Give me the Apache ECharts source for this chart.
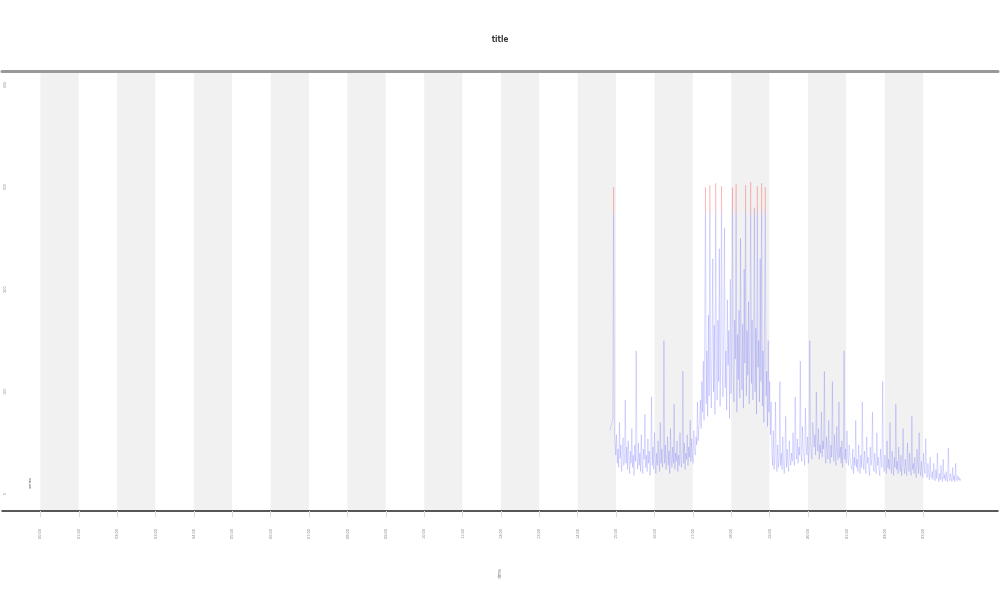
<!DOCTYPE html>
<html>
<head>
<meta charset="utf-8">
<script src="https://cdn.jsdelivr.net/npm/echarts@6/dist/echarts.min.js"></script>
<style>html,body{margin:0;padding:0;background:#fff}#c{width:1000px;height:600px}</style>
</head>
<body>
<div id="c"></div>
<script>
// hour-of-day ticks on the x axis
const hourTicks = [0,1,2,3,4,5,6,7,8,9,10,11,12,13,14,15,16,17,18,19,20,21,22,23];
const hourLabels = hourTicks.map(h => (h < 10 ? '0' + h : '' + h) + ':00');
const yTicks = [0, 100, 200, 300, 400];

// sampling of the series (hours)
const sampleStart = 14.84;
const sampleStep = 0.019;

// series values
const values = [
  62, 66, 68, 71, 74, 300, 60,
  50, 38, 58, 30, 44, 26, 70, 35, 48, 22,
  40, 55, 28, 36, 92, 30, 46, 24, 52, 34,
  20, 42, 30, 64, 26, 38, 18, 48, 32, 140,
  36, 24, 50, 28, 40, 22, 58, 30, 20, 44,
  34, 78, 26, 38, 22, 54, 30, 42, 18, 36,
  95, 28, 46, 24, 60, 32, 20, 40, 28, 52,
  34, 22, 70, 30, 44, 26, 38, 150, 30, 48,
  24, 36, 56, 28, 42, 20, 64, 34, 26, 46,
  30, 88, 24, 40, 32, 52, 22, 38, 28, 60,
  36, 26, 44, 120, 30, 50, 24, 40, 34, 58,
  28, 46, 36, 72, 32, 54, 40, 30, 62, 44,
  38, 56, 48, 90, 52, 66,
  70, 92, 64, 110, 80, 130, 72, 160, 300, 88,
  140, 76, 175, 96, 302, 120, 84, 150, 230, 100,
  165, 78, 304, 130, 92, 170, 110, 240, 86, 150,
  301, 120, 95, 168, 260, 104, 140, 82, 190, 126,
  160, 74, 210, 98, 150, 300, 118, 90, 170, 132,
  303, 80, 156, 112, 180, 94, 250, 140, 102, 166,
  84, 220, 128, 302, 96, 160, 116, 188, 88, 148,
  305, 108, 170, 92, 136, 280, 100, 162, 78, 301,
  124, 150, 90, 230, 110, 304, 86, 140, 70, 175,
  300, 96, 120, 66, 150, 80, 110, 58, 90,
  40, 28, 62, 24, 36, 90, 30, 22, 48, 26,
  34, 110, 28, 40, 24, 56, 30, 20, 38, 76,
  26, 44, 30, 22, 52, 34, 28,
  40, 32, 60, 36, 28, 95, 42, 34, 54, 30,
  46, 38, 130, 40, 32, 66, 44, 36, 28, 84,
  48, 38, 56, 30, 42, 150, 52, 40, 34, 70,
  60, 46, 58, 38, 100, 50, 42, 64, 34, 48,
  40, 80, 36, 52, 44, 120, 38, 30, 56, 42,
  34, 72, 40, 30, 48, 36, 110, 42, 32, 58,
  38, 28, 66, 40, 34, 90, 36, 46, 30, 52,
  26, 40, 140, 34, 44, 30, 62, 36, 28, 48,
  38, 30,
  30, 24, 44, 20, 36, 28, 72, 26, 34, 22,
  48, 30, 20, 38, 26, 90, 32, 24, 42, 28,
  20, 56, 30, 36, 24, 18, 46, 28, 34, 80,
  26, 22, 40, 30, 20, 60, 28, 36, 24, 18,
  44, 32, 26, 110, 30, 22, 38, 28, 20, 52,
  26, 34, 24, 70, 30, 20, 42, 28, 18, 36,
  26, 88, 24, 32, 20, 46, 28, 22, 38, 18,
  30, 64, 26, 20, 34, 24, 18, 50, 28, 22,
  40, 26, 18, 76, 24, 30, 20, 36, 22, 16,
  44, 28, 20, 60, 24, 18, 32, 22, 16, 40,
  26, 20, 54, 22, 16, 30, 20, 14, 36, 18,
  16, 22, 14, 30, 18, 13, 24, 15, 40, 17,
  12, 20, 14, 28, 16, 12, 34, 15, 19, 13,
  22, 14, 12, 45, 16, 13, 20, 15, 12, 26,
  14, 18, 12, 30, 15, 13, 18, 14, 16, 13,
  15
];

const seriesData = values.map((v, i) => [sampleStart + sampleStep * i, v]);

const lineColors = Array(28).fill('#3030ff').concat(['#ff1010', '#ff1010', '#ff1010', '#ff1010']);

const chart = echarts.init(document.getElementById('c'), null, {renderer: 'canvas'});
chart.setOption({
  animation: false,
  backgroundColor: '#ffffff',
  title: {
    text: 'title',
    left: 'center',
    top: 31,
    textStyle: {fontSize: 8, fontWeight: 'bold', color: '#333', fontFamily: 'DejaVu Sans Condensed'}
  },
  grid: {left: 2, right: 2, top: 71, bottom: 89, containLabel: false, outerBoundsMode: 'none'},
  xAxis: [{
    type: 'value',
    min: -1,
    max: 24.95,
    interval: 1,
    position: 'bottom',
    name: 'time',
    nameLocation: 'middle',
    nameGap: 58,
    nameRotate: 90,
    nameTextStyle: {fontSize: 5, color: '#888'},
    axisLine: {show: true, onZero: false, lineStyle: {color: '#222', width: 1.5}},
    axisTick: {show: true, customValues: hourTicks, length: 6, lineStyle: {color: '#ddd', width: 1}},
    axisLabel: {show: true, customValues: hourTicks, rotate: 90, fontSize: 4, color: '#888', margin: 18,
      formatter: v => hourLabels[hourTicks.indexOf(Math.round(v))] || ''},
    splitLine: {show: false},
    splitArea: {show: true, areaStyle: {color: ['#f1f1f1', '#ffffff']}}
  }, {
    type: 'value',
    min: -1,
    max: 24.95,
    position: 'top',
    axisLine: {show: true, onZero: false, lineStyle: {color: '#999', width: 3}},
    axisTick: {show: false},
    axisLabel: {show: false},
    splitLine: {show: false}
  }],
  yAxis: {
    type: 'value',
    min: -16.6,
    max: 413.7,
    name: 'value',
    nameLocation: 'middle',
    nameGap: -4,
    nameRotate: 90,
    nameTextStyle: {fontSize: 4, color: '#999'},
    axisLine: {show: false},
    axisTick: {show: false},
    splitLine: {show: false},
    axisLabel: {show: true, customValues: yTicks, rotate: 90, fontSize: 4, color: '#999', margin: -5}
  },
  visualMap: {
    show: false,
    type: 'continuous',
    dimension: 1,
    seriesIndex: 0,
    min: 0,
    max: 310,
    inRange: {color: lineColors}
  },
  series: [{
    type: 'line',
    name: 'series',
    data: seriesData,
    showSymbol: false,
    symbol: 'none',
    lineStyle: {width: 0.5, opacity: 0.35},
    z: 5
  }],
  graphic: [{
    type: 'text',
    left: 28,
    top: 478,
    rotation: Math.PI / 2,
    style: {text: 'series', fontSize: 4, fill: '#444'}
  }]
});
</script>
</body>
</html>
